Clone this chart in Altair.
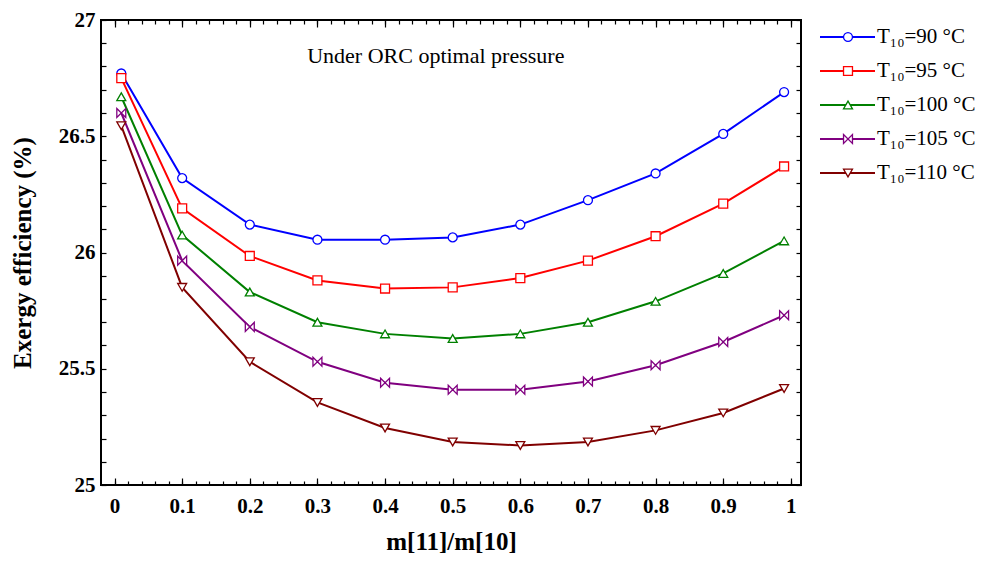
import altair as alt
import pandas as pd

# ---- data ----
ratio = [0.01, 0.1, 0.2, 0.3, 0.4, 0.5, 0.6, 0.7, 0.8, 0.9, 0.99]
series_names = ["T₁₀=90 °C", "T₁₀=95 °C", "T₁₀=100 °C", "T₁₀=105 °C", "T₁₀=110 °C"]
eff_90 = [26.77, 26.32, 26.12, 26.055, 26.055, 26.065, 26.12, 26.225, 26.34, 26.51, 26.69]
eff_95 = [26.75, 26.19, 25.985, 25.88, 25.845, 25.85, 25.89, 25.965, 26.07, 26.21, 26.37]
eff_100 = [26.67, 26.075, 25.83, 25.70, 25.65, 25.63, 25.65, 25.70, 25.79, 25.91, 26.05]
eff_105 = [26.60, 25.965, 25.68, 25.53, 25.44, 25.41, 25.41, 25.445, 25.515, 25.615, 25.73]
eff_110 = [26.545, 25.85, 25.53, 25.355, 25.245, 25.185, 25.17, 25.185, 25.235, 25.31, 25.415]
x_major = [0, 0.1, 0.2, 0.3, 0.4, 0.5, 0.6, 0.7, 0.8, 0.9, 1.0]
x_minor = [round(i * 0.02, 2) for i in range(0, 51)]
y_major = [25, 25.5, 26, 26.5, 27]
y_minor = [round(25 + i * 0.1, 1) for i in range(0, 21)]
note_x = [0.475]
note_y = [26.845]
note_text = ["Under ORC optimal pressure"]

colors = ["#0000ff", "#ff0000", "#008000", "#800080", "#800000"]
shapes = ["circle", "square", "triangle-up", "M-1,-1L1,1L1,-1L-1,1Z", "triangle-down"]

rows = []
for name, vals in zip(series_names, [eff_90, eff_95, eff_100, eff_105, eff_110]):
    for r, v in zip(ratio, vals):
        rows.append({"ratio": r, "eff": v, "series": name})
df = pd.DataFrame(rows)
note_df = pd.DataFrame({"x": note_x, "y": note_y, "t": note_text})

W, H = 700, 465
SERIF = "Liberation Serif"

xscale = alt.Scale(domain=[-0.02, 1.015], nice=False, zero=False)
yscale = alt.Scale(domain=[25, 27], nice=False, zero=False)
cscale = alt.Scale(domain=series_names, range=colors)
sscale = alt.Scale(domain=series_names, range=shapes)

x_lab = alt.X("ratio:Q", scale=xscale, axis=alt.Axis(
    values=x_major, format="~g", ticks=False, domain=False, grid=False,
    labelFont=SERIF, labelFontWeight="bold", labelFontSize=21, labelColor="black",
    labelPadding=10, title="m[11]/m[10]", titleFont=SERIF, titleFontWeight="bold",
    titleFontSize=25, titleColor="black", titlePadding=13))
y_lab = alt.Y("eff:Q", scale=yscale, axis=alt.Axis(
    values=y_major, format="~g", ticks=False, domain=False, grid=False,
    labelFont=SERIF, labelFontWeight="bold", labelFontSize=21, labelColor="black",
    labelPadding=6, title="Exergy efficiency (%)", titleFont=SERIF, titleFontWeight="bold",
    titleFontSize=25, titleColor="black", titlePadding=23))

base = alt.Chart(df)
lines = base.mark_line(strokeWidth=2).encode(
    x=x_lab, y=y_lab,
    color=alt.Color("series:N", scale=cscale, legend=None),
)
points = base.mark_point(filled=True, fill="white", size=80, strokeWidth=1.3, opacity=1).encode(
    x=alt.X("ratio:Q", scale=xscale, axis=None),
    y=alt.Y("eff:Q", scale=yscale, axis=None),
    stroke=alt.Stroke("series:N", scale=cscale, legend=None),
    shape=alt.Shape("series:N", scale=sscale, legend=None),
)
note = alt.Chart(note_df).mark_text(font=SERIF, fontSize=22, color="black", align="center", baseline="middle").encode(
    x=alt.X("x:Q", scale=xscale, axis=None),
    y=alt.Y("y:Q", scale=yscale, axis=None),
    text="t:N",
)


def tick_layer(xorient, yorient, xvals, xsize, yvals, ysize):
    xa = alt.Axis(orient=xorient, offset=-H, values=xvals, labels=False, domain=False,
                  grid=False, ticks=True, tickSize=xsize, tickColor="black", tickWidth=1.2, title=None)
    if yvals is None:
        ya = None
    else:
        ya = alt.Axis(orient=yorient, offset=-W, values=yvals, labels=False, domain=False,
                      grid=False, ticks=True, tickSize=ysize, tickColor="black", tickWidth=1.2, title=None)
    return base.mark_line(strokeOpacity=0).encode(
        x=alt.X("ratio:Q", scale=xscale, axis=xa),
        y=alt.Y("eff:Q", scale=yscale, axis=ya),
        detail="series:N",
    )


t1 = tick_layer("top", "right", x_minor, 4, y_minor, 5)
t2 = tick_layer("bottom", "left", x_minor, 4, y_minor, 5)
t3 = tick_layer("top", "right", x_major, 7, None, 0)
t4 = tick_layer("bottom", "left", x_major, 7, None, 0)

main = alt.layer(lines, points, note, t1, t2, t3, t4).resolve_axis(
    x="independent", y="independent"
).properties(width=W, height=H, view=alt.ViewBackground(stroke="black", strokeWidth=2))

# ---- legend panel (line + marker + label) ----
leg_df = pd.DataFrame({"series": series_names})
leg_y = alt.Y("series:N", scale=alt.Scale(type="point", domain=series_names, padding=0.5), axis=None)
leg_rule = alt.Chart(leg_df).mark_rule(strokeWidth=2).encode(
    x=alt.value(2), x2=alt.value(57), y=leg_y,
    color=alt.Color("series:N", scale=cscale, legend=None),
)
leg_pt = alt.Chart(leg_df).mark_point(filled=True, fill="white", size=80, strokeWidth=1.3, opacity=1).encode(
    x=alt.value(30), y=leg_y,
    stroke=alt.Stroke("series:N", scale=cscale, legend=None),
    shape=alt.Shape("series:N", scale=sscale, legend=None),
)
leg_txt = alt.Chart(leg_df).mark_text(font=SERIF, fontSize=21, color="black", align="left", baseline="middle").encode(
    x=alt.value(59), y=leg_y, text="series:N",
)
legend = alt.layer(leg_rule, leg_pt, leg_txt).properties(
    width=150, height=170, view=alt.ViewBackground(stroke="transparent", strokeWidth=0)
)

chart = alt.hconcat(main, legend, spacing=15).properties(
    padding={"left": 1, "top": 0, "right": 0, "bottom": 0}
).configure_view(stroke="transparent")

chart.save("out.html", embed_options={"renderer": "svg", "actions": False})
